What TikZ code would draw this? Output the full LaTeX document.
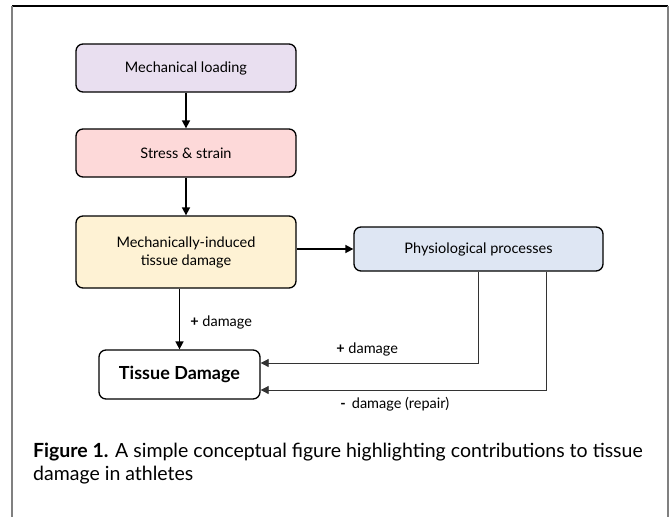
\documentclass[tikz,border=0pt]{standalone}
\usepackage{fontspec}
\setmainfont{Lato}
\usetikzlibrary{positioning,
        arrows.meta}
\usepackage{xcolor}
\definecolor{loadfill}{HTML}{E9DFF0}
\definecolor{stressfill}{HTML}{FDD9D9}
\definecolor{damfill}{HTML}{FEF2D4}
\definecolor{physfill}{HTML}{DEE6F3}

\begin{document}
\begin{tikzpicture}[x=1pt,y=-1pt,
        box/.style={draw,rounded corners=7pt,line width=1.3pt,align=center,
                inner sep=0pt,font=\fontsize{14.5}{18}\selectfont},
        arr/.style={-{Triangle[length=8pt,width=8pt]},line width=1.6pt},
        fb/.style={-{Triangle[length=8pt,width=8pt]},line width=0.8pt,draw=black!80},
        lbl/.style={font=\fontsize{14.5}{18}\selectfont,inner sep=0pt}]
        \useasboundingbox (0,0) rectangle (672,517);
        % frame
        \draw [line width=1.2pt] (12,6) -- (668,6);
        \draw [line width=1.2pt,draw=black!50] (12,6) -- (12,517);
        \draw [line width=1.2pt,draw=black!50] (668,6) -- (668,517);

        \node [box,fill=loadfill,minimum width=220pt,minimum height=48pt] (ml) at (186,68) {Mechanical loading};
        \node [box,fill=stressfill,minimum width=220pt,minimum height=48pt] (ss) at (186,153) {Stress \& strain};
        \node [box,fill=damfill,minimum width=220pt,minimum height=72pt] (mi) at (186,252) {Mechanically-induced\\tissue damage};
        \node [box,fill=physfill,minimum width=249pt,minimum height=44pt] (pp) at (478.5,249) {Physiological processes};
        \node [box,fill=white,minimum width=161pt,minimum height=49pt,font=\fontsize{18}{20}\selectfont\bfseries] (td) at (179.5,374.5) {Tissue Damage};

        \coordinate (c1) at (478,363);
        \coordinate (c2) at (546,390);

        \draw [arr] (ml) -- (ss);
        \draw [arr] (ss) -- (mi);
        \draw [arr] (mi.east |- pp.west) -- (pp.west);
        \draw [arr] (td.north |- mi.south) -- node [lbl,right=10pt,pos=0.55] {\textbf{+} damage} (td.north);
        \draw [fb] (pp.south -| c1) -- (c1) -- node [lbl,above=6pt,pos=0.51] {\textbf{+} damage} (td.east |- c1);
        \draw [fb] (pp.south -| c2) -- (c2) -- node [lbl,below=7pt,pos=0.53] {\textbf{-}\, damage (repair)} (td.east |- c2);

        % caption
        \node [anchor=north west,align=left,inner sep=0pt,font=\fontsize{19.5}{22.5}\selectfont] (cap) at (33,443)
                {\textbf{Figure 1.} A simple conceptual figure highlighting contributions to tissue\\damage in athletes};
\end{tikzpicture}
\end{document}
